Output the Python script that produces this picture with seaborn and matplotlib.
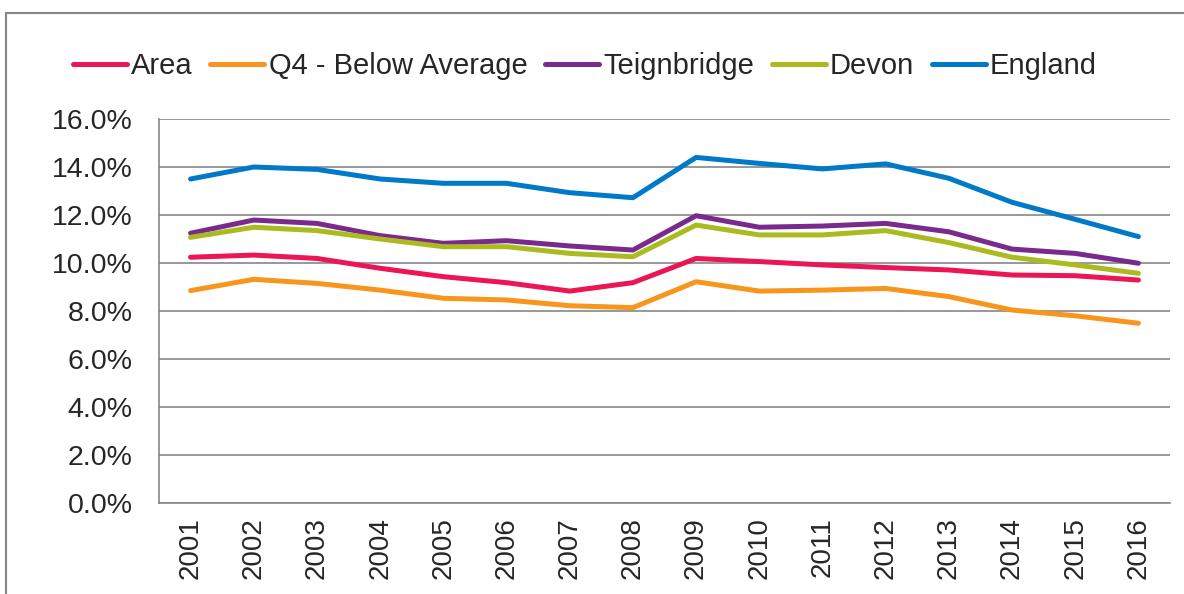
import matplotlib
matplotlib.use("Agg")
import matplotlib.pyplot as plt
import seaborn as sns
import pandas as pd
from matplotlib.ticker import FixedLocator, FuncFormatter
from matplotlib.patches import Rectangle

years = ["2001", "2002", "2003", "2004", "2005", "2006", "2007", "2008",
         "2009", "2010", "2011", "2012", "2013", "2014", "2015", "2016"]
area = [10.24, 10.33, 10.19, 9.78, 9.43, 9.18, 8.83, 9.18,
        10.19, 10.06, 9.92, 9.81, 9.71, 9.50, 9.47, 9.29]
q4 = [8.85, 9.32, 9.15, 8.87, 8.53, 8.46, 8.22, 8.14,
      9.22, 8.83, 8.87, 8.94, 8.60, 8.04, 7.80, 7.49]
teignbridge = [11.24, 11.79, 11.65, 11.14, 10.82, 10.93, 10.71, 10.54,
               11.97, 11.49, 11.54, 11.65, 11.30, 10.58, 10.40, 9.99]
devon = [11.07, 11.49, 11.35, 11.00, 10.68, 10.68, 10.40, 10.26,
         11.58, 11.17, 11.17, 11.35, 10.85, 10.24, 9.92, 9.57]
england = [13.50, 14.00, 13.90, 13.50, 13.32, 13.32, 12.93, 12.72,
           14.40, 14.15, 13.92, 14.13, 13.53, 12.53, 11.82, 11.10]

series_names = ["Area", "Q4 - Below Average", "Teignbridge", "Devon", "England"]
colors = ["#EB1653", "#F7951D", "#7A2A8C", "#ABBA1E", "#0079C9"]

df = pd.DataFrame({"Year": years, "Area": area, "Q4 - Below Average": q4,
                   "Teignbridge": teignbridge, "Devon": devon, "England": england})
long = df.melt(id_vars="Year", var_name="Series", value_name="Value")
long["x"] = long["Year"].map({y: i for i, y in enumerate(years)})

sns.set_style("white")
plt.rcParams["font.family"] = ["Liberation Sans", "DejaVu Sans"]

fig = plt.figure(figsize=(11.84, 5.94), dpi=100)
ax = fig.add_axes([159/1184, 1-503/594, (1170-159)/1184, (503-119)/594])

sns.lineplot(data=long, x="x", y="Value", hue="Series", hue_order=series_names,
             palette=colors, linewidth=3.6, ax=ax, legend=True)

ax.set_xlim(-0.5, len(years) - 0.5)
ax.set_ylim(0, 16)
ax.yaxis.set_major_locator(FixedLocator([0, 2, 4, 6, 8, 10, 12, 14, 16]))
ax.yaxis.set_major_formatter(FuncFormatter(lambda v, p: f"{v:.1f}%"))
ax.set_xticks(range(len(years)))
ax.set_xticklabels(years, rotation=90, fontsize=20)
ax.set_xticks([i - 0.5 for i in range(len(years) + 1)], minor=True)
ax.tick_params(axis="x", which="major", length=0, pad=10)
ax.tick_params(axis="x", which="minor", length=9, width=1.2, color="#868686", direction="out")
ax.tick_params(axis="y", which="major", length=9, width=1.2, color="#868686",
               direction="out", labelsize=20.5, pad=10)
ax.set_xlabel("")
ax.set_ylabel("")
ax.grid(axis="y", color="#868686", linewidth=1.2)
ax.set_axisbelow(True)
for s in ["top", "right"]:
    ax.spines[s].set_visible(False)
for s in ["left", "bottom"]:
    ax.spines[s].set_color("#868686")
    ax.spines[s].set_linewidth(1.2)

handles, labels = ax.get_legend_handles_labels()
ax.get_legend().remove()
for h in handles:
    h.set_linewidth(3.6)
fig.legend(handles, labels, loc="center", bbox_to_anchor=(585/1184, 1-66/594),
           ncol=5, frameon=False, fontsize=21, handlelength=1.85,
           handletextpad=0.15, columnspacing=0.6)

fig.patches.append(Rectangle((6/1184, -0.1), 1.2, 1.1 - 13/594,
                             transform=fig.transFigure, fill=False,
                             edgecolor="#868686", linewidth=1.5))

fig.savefig("out.png", dpi=100)
